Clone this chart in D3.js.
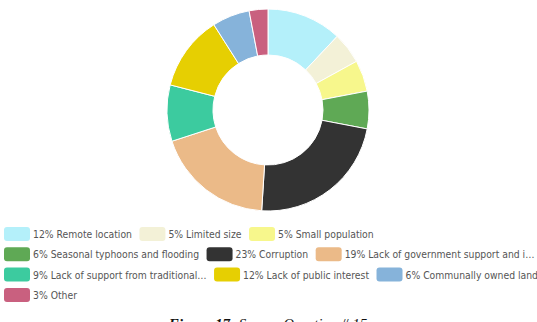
<!DOCTYPE html>
<html>
<head>
<meta charset="utf-8">
<script src="https://cdn.jsdelivr.net/npm/d3@7"></script>
<style>
  body { margin: 0; background: #fff; }
  svg { display: block; }
</style>
</head>
<body>
<div id="chart"></div>
<script>
// Survey answers
var labels = ["Remote location", "Limited size", "Small population",
    "Seasonal typhoons and flooding", "Corruption", "Lack of government support and i\u2026",
    "Lack of support from traditional\u2026", "Lack of public interest", "Communally owned lands",
    "Other"];
var values = [12, 5, 5, 6, 23, 19, 9, 12, 6, 3];
var colors = ["#b4f0fa", "#f3f1d7", "#f7f78c", "#5fa955", "#333333",
    "#ebba88", "#3ccb9f", "#e6cf02", "#86b3da", "#c9607f"];
var legendRows = [3, 3, 3, 1]; // items per legend row

var W = 537, H = 322;
var cx = 268, cy = 110, outerR = 101, innerR = 55;

var svg = d3.select("#chart").append("svg")
    .attr("width", W)
    .attr("height", H);

// Donut
var pie = d3.pie().sort(null).value(function (d) { return d; });
var arc = d3.arc().innerRadius(innerR).outerRadius(outerR);

svg.append("g")
    .attr("transform", "translate(" + cx + "," + cy + ")")
    .selectAll("path")
    .data(pie(values))
    .enter()
    .append("path")
    .attr("d", arc)
    .attr("fill", function (d, i) { return colors[i]; })
    .attr("stroke", "#fff")
    .attr("stroke-width", 1);

// Legend, flowed left to right
var legend = svg.append("g")
    .style("font-family", "'DejaVu Sans Condensed', 'DejaVu Sans', sans-serif")
    .style("font-stretch", "condensed")
    .style("font-size", "10.3px");

var idx = 0;
legendRows.forEach(function (count, r) {
    var x = 4, y = 227 + r * 20.3;
    for (var k = 0; k < count; k++, idx++) {
        legend.append("rect")
            .attr("x", x).attr("y", y)
            .attr("width", 26).attr("height", 14)
            .attr("rx", 3)
            .attr("fill", colors[idx]);
        var t = legend.append("text")
            .attr("x", x + 29)
            .attr("y", y + 11)
            .attr("fill", "#555")
            .text(values[idx] + "% " + labels[idx]);
        x += 29 + t.node().getComputedTextLength() + 7.5;
    }
});

// Caption (cut off at the bottom edge)
var cap = svg.append("text")
    .attr("x", 268)
    .attr("y", 329)
    .attr("text-anchor", "middle")
    .style("font-family", "'Liberation Serif', serif")
    .style("font-size", "15px")
    .style("font-style", "italic")
    .attr("fill", "#111");
cap.append("tspan").style("font-weight", "bold").text("Figure 17:");
cap.append("tspan").text(" Survey Question # 15");
</script>
</body>
</html>
